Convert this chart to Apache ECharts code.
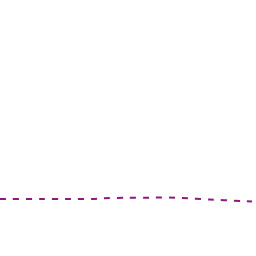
<!DOCTYPE html>
<html><head><meta charset="utf-8">
<script src="https://cdn.jsdelivr.net/npm/echarts@6/dist/echarts.min.js"></script>
<style>html,body{margin:0;padding:0;background:#fff}#c{width:256px;height:256px}</style>
</head><body><div id="c"></div>
<script>
const categories = ['1','2','3','4','5','6','7','8','9','10'];
const values = [22.27, 22.27, 22.27, 22.27, 22.66, 22.77, 22.81, 22.34, 21.80, 21.33];
const chart = echarts.init(document.getElementById('c'), null, {renderer:'canvas'});
chart.setOption({
  animation:false,
  grid:{left:0,right:4,top:0,bottom:0},
  xAxis:{type:'category',data:categories,boundaryGap:false,show:false},
  yAxis:{type:'value',min:0,max:100,show:false},
  series:[{type:'line',data:values,smooth:true,symbol:'none',
    lineStyle:{color:'#8b1a80',width:2,type:[6,7]}}]
});
</script></body></html>
